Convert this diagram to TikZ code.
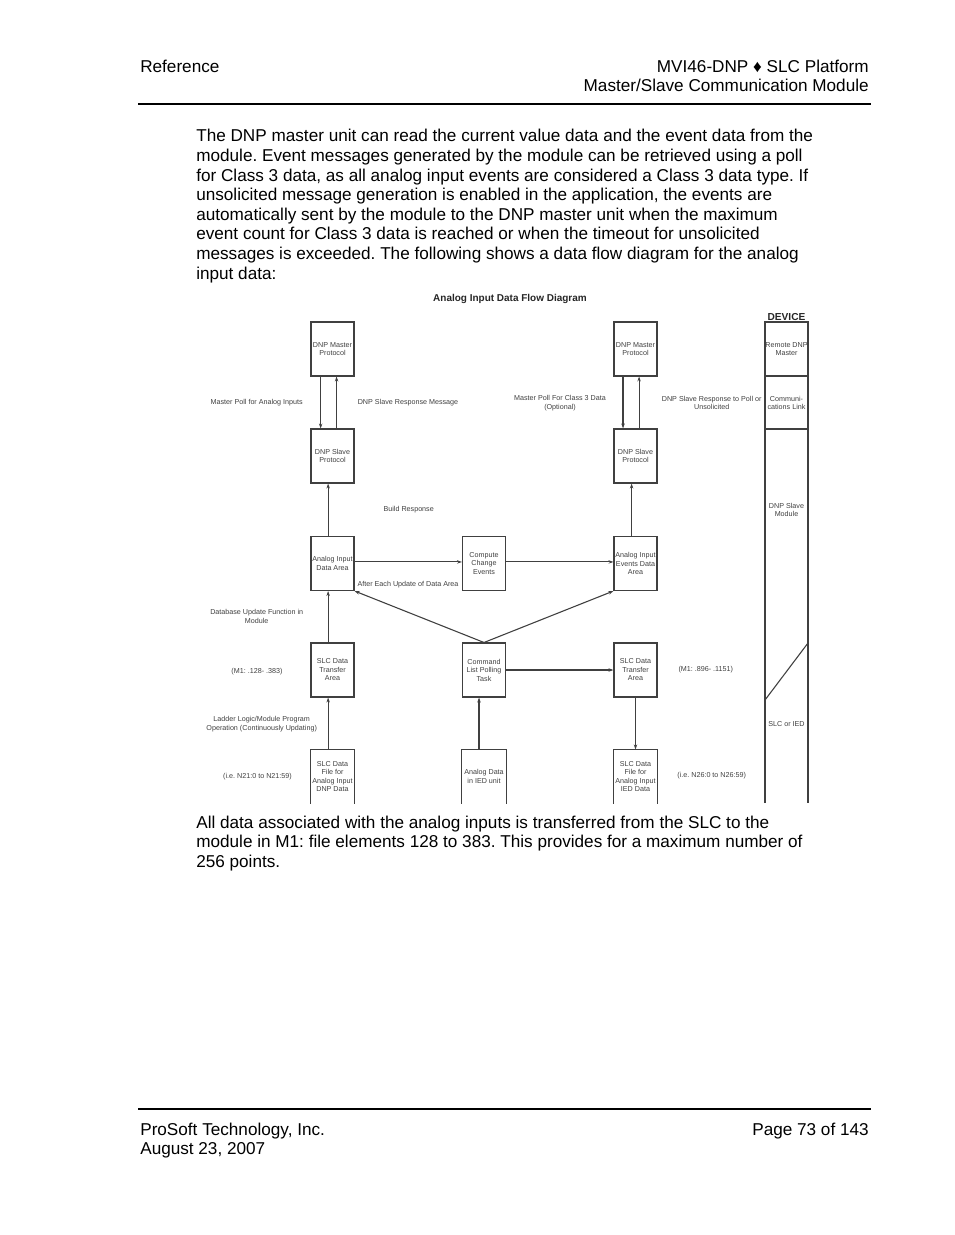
\documentclass[tikz,border=0pt]{standalone}
\usepackage{fontspec}
\setmainfont{Liberation Sans}
\usetikzlibrary{arrows.meta}
\frenchspacing
\begin{document}
\begin{tikzpicture}[x=0.6414pt, y=-0.6414pt,
		box/.style={draw=black!75, line width=0.7pt, minimum width=27.6pt, minimum height=34.6pt,
			inner sep=0pt, align=center, font=\fontsize{4.6}{5.45}\selectfont, text=black!75},
		openbox/.style={box, draw=none, minimum height=34pt},
		lbl/.style={inner sep=0pt, align=center, font=\fontsize{4.6}{5.45}\selectfont, text=black!75},
		edge/.style={draw=black!75, line width=0.7pt},
		flow/.style={edge, -{Stealth[length=3.2pt, width=2.2pt]}},
		body/.style={anchor=base west, inner sep=0pt, font=\fontsize{11}{12.6}\selectfont}]
		\useasboundingbox (0, 0) rectangle (954, 1235);
		% page header
		\node[body] (hdl) at (140, 73) {Reference};
		\node[body, anchor=base east] (hdr1) at (869, 73) {MVI46-DNP ♦ SLC Platform};
		\node[body, anchor=base east] (hdr2) at (869, 92) {Master/Slave Communication Module};
		\draw[line width=0.7pt] (138, 104) -- (871, 104);
		% text above the diagram
		\foreach \t [count=\i] in {
			{The DNP master unit can read the current value data and the event data from the},
			{module. Event messages generated by the module can be retrieved using a poll},
			{for Class 3 data, as all analog input events are considered a Class 3 data type. If},
			{unsolicited message generation is enabled in the application, the events are},
			{automatically sent by the module to the DNP master unit when the maximum},
			{event count for Class 3 data is reached or when the timeout for unsolicited},
			{messages is exceeded. The following shows a data flow diagram for the analog},
			{input data:}}
			\node[body] (top\i) at (196, 142 + 19.6*\i - 19.6) {\t};
		% diagram
		\node[lbl, font=\fontsize{6.4}{7}\selectfont\bfseries, text=black!85] (title) at (510, 298.5) {Analog Input Data Flow Diagram};
		\node[box] (mL) at (332.5, 349) {DNP Master\\Protocol};
		\node[box] (sL) at (332.5, 456) {DNP Slave\\Protocol};
		\node[box] (mR) at (635.5, 349) {DNP Master\\Protocol};
		\node[box] (sR) at (635.5, 456) {DNP Slave\\Protocol};
		\node[box] (aiL) at (332.5, 563.5) {Analog Input\\Data Area};
		\node[box] (cce) at (484, 563.5) {Compute\\Change\\Events};
		\node[box] (aie) at (635.5, 563.5) {Analog Input\\Events Data\\Area};
		\node[box] (tL) at (332.5, 670) {SLC Data\\Transfer\\Area};
		\node[box] (clp) at (484, 670) {Command\\List Polling\\Task};
		\node[box] (tR) at (635.5, 670) {SLC Data\\Transfer\\Area};
		\node[openbox] (fL) at (332.5, 776.5) {SLC Data\\File for\\Analog Input\\DNP Data};
		\node[openbox] (fM) at (484, 776.5) {Analog Data\\in IED unit};
		\node[openbox] (fR) at (635.5, 776.5) {SLC Data\\File for\\Analog Input\\IED Data};
		\foreach \n in {fL, fM, fR}
			\draw[edge] (\n.south west) |- (\n.north east) -- (\n.south east);
		% connectors
		\draw[flow] ([xshift=-7.6pt]mL.south) -- ([xshift=-7.6pt]sL.north);
		\draw[flow] ([xshift=2.6pt]sL.north) -- ([xshift=2.6pt]mL.south);
		\draw[flow] ([xshift=-8pt]mR.south) -- ([xshift=-8pt]sR.north);
		\draw[flow] ([xshift=2.3pt]sR.north) -- ([xshift=2.3pt]mR.south);
		\draw[flow] ([xshift=-2.8pt]aiL.north) -- ([xshift=-2.8pt]sL.south);
		\draw[flow] ([xshift=-2.5pt]aie.north) -- ([xshift=-2.5pt]sR.south);
		\draw[flow] ([yshift=1pt]aiL.east) -- ([yshift=1pt]cce.west);
		\draw[flow] ([yshift=1pt]cce.east) -- ([yshift=1pt]aie.west);
		\draw[flow] (clp.north) -- (aiL.south east);
		\draw[flow] (clp.north) -- (aie.south west);
		\draw[flow] ([xshift=-2.8pt]tL.north) -- ([xshift=-2.8pt]aiL.south);
		\draw[flow] ([xshift=-2.8pt]fL.north) -- ([xshift=-2.8pt]tL.south);
		\draw[flow] ([xshift=-3.2pt]fM.north) -- ([xshift=-3.2pt]clp.south);
		\draw[flow] (clp.east) -- (tR.west);
		\draw[flow] (tR.south) -- (fR.north);
		% labels
		\node[lbl] (lpoll) at (256.7, 403) {Master Poll for Analog Inputs};
		\node[lbl] (lresp) at (408, 403) {DNP Slave Response Message};
		\node[lbl] (lpoll3) at (560, 403) {Master Poll For Class 3 Data\\(Optional)};
		\node[lbl] (lresp3) at (711.7, 403) {DNP Slave Response to Poll or\\Unsolicited};
		\node[lbl] (lbuild) at (408.7, 510) {Build Response};
		\node[lbl] (lafter) at (408, 585) {After Each Update of Data Area};
		\node[lbl] (ldb) at (256.7, 616.5) {Database Update Function in\\Module};
		\node[lbl] (lm1) at (257, 671.5) {(M1: .128- .383)};
		\node[lbl] (lladder) at (261.7, 724) {Ladder Logic/Module Program\\Operation (Continuously Updating)};
		\node[lbl] (lnL) at (257.5, 776.5) {(i.e. N21:0 to N21:59)};
		\node[lbl] (lm2) at (705.8, 670) {(M1: .896- .1151)};
		\node[lbl] (lnR) at (711.7, 776) {(i.e. N26:0 to N26:59)};
		% device column
		\node[lbl, font=\fontsize{6.5}{7}\selectfont\bfseries, text=black!85] (dev) at (786.5, 317) {DEVICE};
		\draw[edge] (765, 803) |- (808, 322) -- (808, 803);
		\draw[edge] (765, 376) -- (808, 376);
		\draw[edge] (765, 429) -- (808, 429);
		\draw[edge] (808, 643) -- (765, 700);
		\node[lbl] (dmaster) at (786.5, 349) {Remote DNP\\Master};
		\node[lbl] (dlink) at (786.5, 403) {Communi-\\cations Link};
		\node[lbl] (dslave) at (786.5, 510) {DNP Slave\\Module};
		\node[lbl] (dslc) at (786.5, 724) {SLC or IED};
		% text below the diagram
		\foreach \t [count=\i] in {
			{All data associated with the analog inputs is transferred from the SLC to the},
			{module in M1: file elements 128 to 383. This provides for a maximum number of},
			{256 points.}}
			\node[body] (bot\i) at (196, 828 + 19.6*\i - 19.6) {\t};
		% page footer
		\draw[line width=0.7pt] (138, 1109) -- (871, 1109);
		\node[body] (ftl1) at (140, 1135) {ProSoft Technology, Inc.};
		\node[body] (ftl2) at (140, 1154) {August 23, 2007};
		\node[body, anchor=base east] (ftr) at (869, 1135) {Page 73 of 143};
\end{tikzpicture}
\end{document}
